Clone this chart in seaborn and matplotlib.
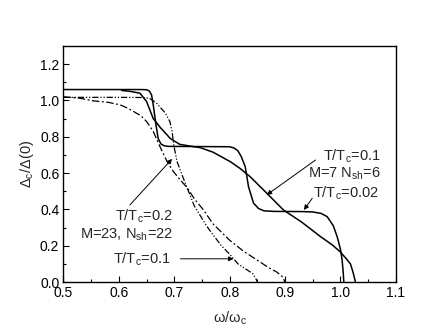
import numpy as np
import pandas as pd
import matplotlib
matplotlib.use("Agg")
import matplotlib.pyplot as plt
import seaborn as sns

# ---- data ----
# T/Tc=0.02, M=7, Nsh=6 (solid, stepped)
A_x = [0.50, 0.64, 0.650, 0.655, 0.659, 0.662, 0.667, 0.671, 0.676, 0.682, 0.69, 0.75, 0.80, 0.808,
       0.815, 0.821, 0.828, 0.834, 0.843, 0.852, 0.862, 0.88, 0.93, 0.950, 0.965, 0.976, 0.987,
       0.994, 1.000, 1.003, 1.005, 1.006]
A_y = [1.06, 1.06, 1.059, 1.052, 1.03, 0.976, 0.865, 0.79, 0.76, 0.750, 0.747, 0.746, 0.745, 0.738,
       0.722, 0.69, 0.636, 0.525, 0.435, 0.405, 0.392, 0.389, 0.388, 0.386, 0.378, 0.36, 0.31,
       0.25, 0.18, 0.12, 0.05, 0.0]
# T/Tc=0.1, M=7, Nsh=6 (solid, smooth)
B_x = [0.605, 0.62, 0.638, 0.65, 0.662, 0.675, 0.693, 0.71, 0.73, 0.747, 0.77, 0.801, 0.819,
       0.837, 0.867, 0.897, 0.93, 0.964, 0.985, 1.0, 1.01, 1.018, 1.023, 1.027]
B_y = [1.055, 1.05, 1.04, 0.994, 0.90, 0.85, 0.79, 0.758, 0.748, 0.740, 0.715, 0.663, 0.625,
       0.58, 0.489, 0.397, 0.33, 0.25, 0.205, 0.165, 0.13, 0.10, 0.05, 0.0]
# T/Tc=0.1, M=23, Nsh=22 (dash-dot-dot)
C_x = [0.50, 0.60, 0.645, 0.656, 0.668, 0.684, 0.692, 0.696, 0.699, 0.705, 0.714, 0.723, 0.736,
       0.756, 0.765, 0.785, 0.801, 0.815, 0.832, 0.842, 0.847, 0.85]
C_y = [1.017, 1.017, 1.016, 1.010, 0.985, 0.93, 0.884, 0.83, 0.755, 0.663, 0.59, 0.52, 0.42,
       0.32, 0.28, 0.20, 0.15, 0.10, 0.066, 0.045, 0.02, 0.0]
# T/Tc=0.2, M=23, Nsh=22 (dash-dot)
D_x = [0.50, 0.53, 0.553, 0.58, 0.602, 0.614, 0.626, 0.64, 0.65, 0.662, 0.675, 0.687, 0.698,
       0.71, 0.723, 0.737, 0.752, 0.77, 0.80, 0.825, 0.85, 0.87, 0.885, 0.895, 0.9]
D_y = [1.02, 1.012, 0.998, 0.99, 0.976, 0.96, 0.94, 0.915, 0.884, 0.83, 0.74, 0.663, 0.61,
       0.565, 0.52, 0.455, 0.40, 0.32, 0.23, 0.17, 0.12, 0.08, 0.055, 0.03, 0.0]

x_ticks = [0.5, 0.6, 0.7, 0.8, 0.9, 1.0, 1.1]
y_ticks = [0.0, 0.2, 0.4, 0.6, 0.8, 1.0, 1.2]

sns.set_style("ticks")
plt.rcParams['font.family'] = ['Liberation Sans', 'DejaVu Sans']
plt.rcParams['mathtext.fontset'] = 'custom'
plt.rcParams['mathtext.rm'] = 'Liberation Sans'
plt.rcParams['mathtext.it'] = 'Liberation Sans'

fig = plt.figure(figsize=(4.36, 3.33), dpi=100)
ax = fig.add_axes([0.1456, 0.153, 0.7624, 0.709])

lw_s = 1.1
lw_d = 0.9
sns.lineplot(x=A_x, y=A_y, ax=ax, color='black', lw=lw_s, estimator=None, sort=False)
sns.lineplot(x=B_x, y=B_y, ax=ax, color='black', lw=lw_s, estimator=None, sort=False)
sns.lineplot(x=C_x, y=C_y, ax=ax, color='black', lw=lw_d, estimator=None, sort=False,
             linestyle=(0, (5, 1.5, 1, 1.5, 1, 1.5)))
sns.lineplot(x=D_x, y=D_y, ax=ax, color='black', lw=lw_d, estimator=None, sort=False,
             linestyle=(0, (6, 2, 1.5, 2)))

ax.set_xlim(0.5, 1.1)
ax.set_ylim(0.0, 1.3)
ax.set_xticks(x_ticks)
ax.set_yticks(y_ticks)
ax.set_xticklabels([f"{v:.1f}" for v in x_ticks])
ax.set_yticklabels([f"{v:.1f}" for v in y_ticks])
ax.set_xticks(np.arange(0.55, 1.1, 0.1), minor=True)
ax.set_yticks(np.arange(0.1, 1.3, 0.2), minor=True)
ax.tick_params(which='both', direction='in', top=False, right=False, labelsize=10,
               width=0.8, color='black', labelcolor='black', pad=3)
ax.tick_params(which='major', length=4.5)
ax.tick_params(which='minor', length=2.5)
for s in ax.spines.values():
    s.set_linewidth(1.0)
    s.set_color('black')

ax.set_xlabel(r"ω/ω$_\mathrm{c}$", fontsize=10.5, labelpad=7)
ax.set_ylabel(r"Δ$_\mathrm{c}$/Δ(0)", fontsize=10.5, labelpad=3)

fs = 10.5
ax.text(0.969, 0.695, r"T/T$_\mathrm{c}$=0.1", fontsize=fs, ha='left', va='center')
ax.text(0.942, 0.595, r"M=7 N$_\mathrm{sh}$=6", fontsize=fs, ha='left', va='center')
ax.text(0.951, 0.49, r"T/T$_\mathrm{c}$=0.02", fontsize=fs, ha='left', va='center')
ax.text(0.698, 0.36, r"T/T$_\mathrm{c}$=0.2", fontsize=fs, ha='right', va='center')
ax.text(0.698, 0.259, r"M=23, N$_\mathrm{sh}$=22", fontsize=fs, ha='right', va='center')
ax.text(0.694, 0.128, r"T/T$_\mathrm{c}$=0.1", fontsize=fs, ha='right', va='center')

ap = dict(arrowstyle='-|>', color='black', lw=0.7, mutation_scale=7, shrinkA=0, shrinkB=0)
ax.annotate("", xy=(0.696, 0.678), xytext=(0.62, 0.425), arrowprops=ap)
ax.annotate("", xy=(0.807, 0.128), xytext=(0.711, 0.128), arrowprops=ap)
ax.annotate("", xy=(0.867, 0.48), xytext=(0.955, 0.672), arrowprops=ap)
ax.annotate("", xy=(0.934, 0.397), xytext=(0.949, 0.461), arrowprops=ap)

fig.savefig("out.png", dpi=100)
